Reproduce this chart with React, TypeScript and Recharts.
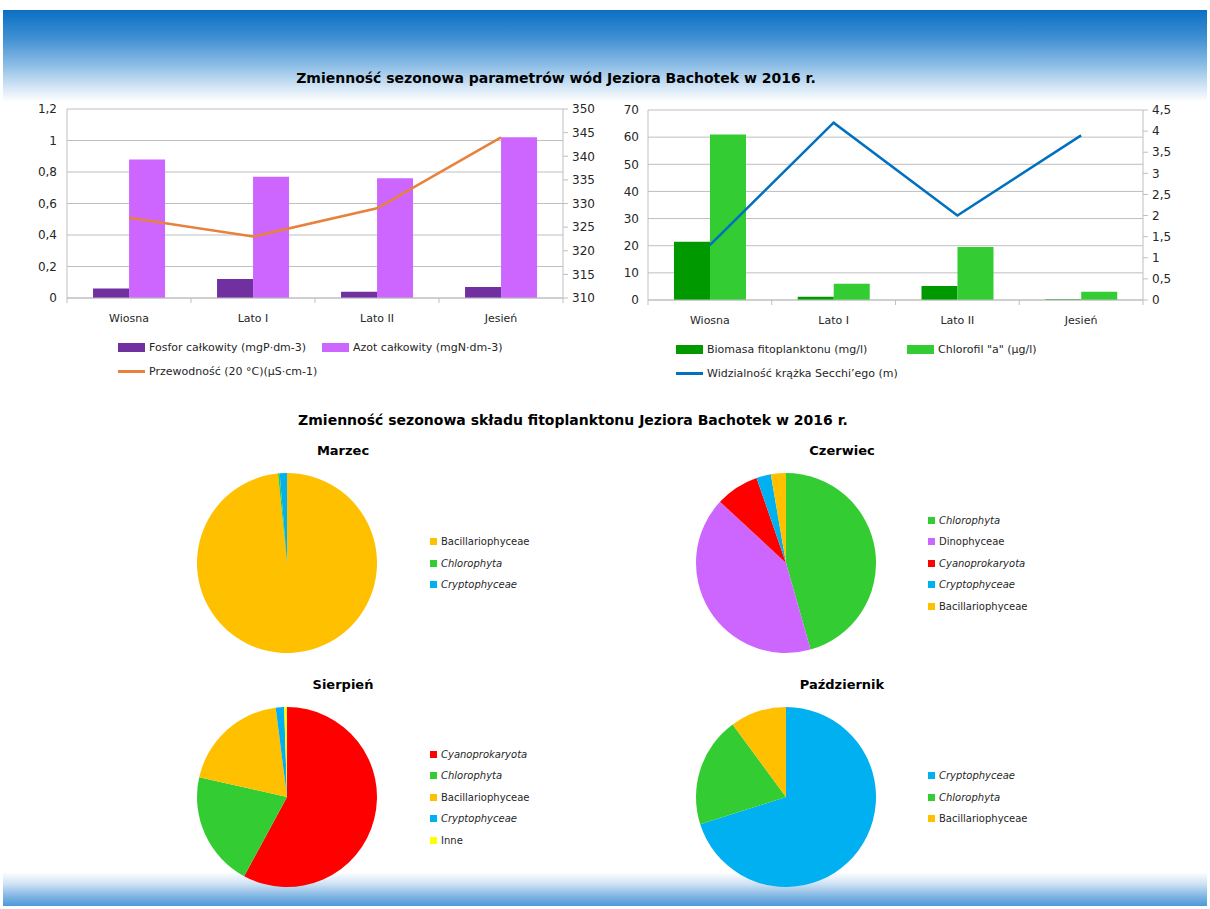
import React from 'react';
import { ComposedChart, Bar, Line, XAxis, YAxis, CartesianGrid, PieChart, Pie, Cell } from 'recharts';

// --- data ---
const seasons = ['Wiosna', 'Lato I', 'Lato II', 'Jesień'];

const fosfor = [0.06, 0.12, 0.04, 0.07];
const azot = [0.88, 0.77, 0.76, 1.02];
const przewodnosc = [327, 323, 329, 344];

const biomasa = [21.5, 1.2, 5.2, 0.3];
const chlorofil = [61, 6, 19.5, 3];
const secchi = [1.3, 4.2, 2.0, 3.9];

const ticksNutrients = [0, 0.2, 0.4, 0.6, 0.8, 1, 1.2];
const ticksConductivity = [310, 315, 320, 325, 330, 335, 340, 345, 350];
const ticksBiomass = [0, 10, 20, 30, 40, 50, 60, 70];
const ticksSecchi = [0, 0.5, 1, 1.5, 2, 2.5, 3, 3.5, 4, 4.5];

const marzecNames = ['Bacillariophyceae', 'Chlorophyta', 'Cryptophyceae'];
const marzecValues = [98.4, 0.3, 1.3];

const czerwiecNames = ['Chlorophyta', 'Dinophyceae', 'Cyanoprokaryota', 'Cryptophyceae', 'Bacillariophyceae'];
const czerwiecValues = [45.6, 41.3, 7.8, 2.6, 2.7];

const sierpienNames = ['Cyanoprokaryota', 'Chlorophyta', 'Bacillariophyceae', 'Cryptophyceae', 'Inne'];
const sierpienValues = [57.9, 20.6, 19.5, 1.5, 0.5];

const pazdziernikNames = ['Cryptophyceae', 'Chlorophyta', 'Bacillariophyceae'];
const pazdziernikValues = [70.1, 19.8, 10.1];

// --- styles ---
const FONT = '"DejaVu Sans", Verdana, sans-serif';
const GRID = '#bfbfbf';
const TEXT = '#262626';

const groupColors: Record<string, string> = {
  Bacillariophyceae: '#ffc000',
  Chlorophyta: '#33cc33',
  Cryptophyceae: '#00b0f0',
  Dinophyceae: '#cc66ff',
  Cyanoprokaryota: '#ff0000',
  Inne: '#ffff00',
};
const italicNames = ['Chlorophyta', 'Cryptophyceae', 'Cyanoprokaryota'];

const comma = (v: number) => String(v).replace('.', ',');

const nutrientRows = seasons.map((s, i) => ({
  season: s,
  fosfor: fosfor[i],
  azot: azot[i],
  przewodnosc: przewodnosc[i],
}));

const planktonRows = seasons.map((s, i) => ({
  season: s,
  biomasa: biomasa[i],
  chlorofil: chlorofil[i],
  secchi: secchi[i],
}));

// category label with Excel-like tick marks between the categories
const CategoryTick = (props: any) => {
  const { x, y, payload, index, step, count } = props;
  return (
    <g>
      <line x1={x - step / 2} y1={y} x2={x - step / 2} y2={y + 5} stroke={GRID} />
      {index === count - 1 && <line x1={x + step / 2} y1={y} x2={x + step / 2} y2={y + 5} stroke={GRID} />}
      <text x={x} y={y + 24} textAnchor="middle" fontSize={11} fill={TEXT} fontFamily={FONT}>
        {payload.value}
      </text>
    </g>
  );
};

const tickStyle = { fontSize: 12, fill: TEXT, fontFamily: FONT };

const SwatchLegend = ({ left, top, items }: { left: number; top: number; items: { label: string; color: string; line?: boolean; x: number; row: number }[] }) => (
  <>
    {items.map((it) => (
      <div
        key={it.label}
        style={{
          position: 'absolute',
          left: left + it.x,
          top: top + it.row * 24,
          display: 'flex',
          alignItems: 'center',
          fontFamily: FONT,
          fontSize: 11,
          color: TEXT,
          whiteSpace: 'nowrap',
        }}
      >
        <span
          style={{
            display: 'inline-block',
            width: 27,
            height: it.line ? 3 : 9,
            background: it.color,
            marginRight: 4,
          }}
        />
        {it.label}
      </div>
    ))}
  </>
);

const PieBlock = ({ title, names, values, cx, cy, legendX }: { title: string; names: string[]; values: number[]; cx: number; cy: number; legendX: number }) => {
  const data = names.map((n, i) => ({ name: n, value: values[i] }));
  const rowH = 21.5;
  const legendTop = cy - (names.length * rowH) / 2;
  return (
    <>
      <div
        style={{
          position: 'absolute',
          left: cx - 44,
          top: cy - 120,
          width: 200,
          textAlign: 'center',
          fontFamily: FONT,
          fontWeight: 'bold',
          fontSize: 13,
          color: '#000',
        }}
      >
        {title}
      </div>
      <div style={{ position: 'absolute', left: cx - 100, top: cy - 100 }}>
        <PieChart width={200} height={200} margin={{ top: 0, right: 0, bottom: 0, left: 0 }}>
          <Pie
            data={data}
            dataKey="value"
            nameKey="name"
            cx={100}
            cy={100}
            outerRadius={90}
            startAngle={90}
            endAngle={-270}
            stroke="none"
            isAnimationActive={false}
          >
            {data.map((d) => (
              <Cell key={d.name} fill={groupColors[d.name]} />
            ))}
          </Pie>
        </PieChart>
      </div>
      {names.map((n, i) => (
        <div
          key={n}
          style={{
            position: 'absolute',
            left: legendX,
            top: legendTop + i * rowH,
            height: rowH,
            display: 'flex',
            alignItems: 'center',
            fontFamily: FONT,
            fontSize: 10,
            fontStyle: italicNames.includes(n) ? 'italic' : 'normal',
            color: TEXT,
            whiteSpace: 'nowrap',
          }}
        >
          <span style={{ display: 'inline-block', width: 7, height: 7, background: groupColors[n], marginRight: 4 }} />
          {n}
        </div>
      ))}
    </>
  );
};

export default function App() {
  return (
    <div style={{ position: 'absolute', left: 0, top: 0, width: 1210, height: 909, background: '#fff', overflow: 'hidden' }}>
      {/* header and footer bands */}
      <div
        style={{
          position: 'absolute',
          left: 3,
          top: 10,
          width: 1204,
          height: 92,
          background: 'linear-gradient(to bottom, #0a6fc3 0%, #3f8fd2 30%, #8cbde6 60%, #d7e8f6 85%, #ffffff 100%)',
        }}
      />
      <div
        style={{
          position: 'absolute',
          left: 3,
          top: 872,
          width: 1204,
          height: 34,
          background: 'linear-gradient(to bottom, #ffffff 0%, #cfe2f4 35%, #79b1e2 75%, #4d99d8 100%)',
        }}
      />

      <div style={{ position: 'absolute', left: 0, top: 70, width: 1112, textAlign: 'center', fontFamily: FONT, fontWeight: 'bold', fontSize: 14, color: '#000' }}>
        Zmienność sezonowa parametrów wód Jeziora Bachotek w 2016 r.
      </div>

      {/* nutrients and conductivity */}
      <div style={{ position: 'absolute', left: 20, top: 95 }}>
        <ComposedChart width={590} height={240} data={nutrientRows} margin={{ top: 14, right: 0, left: 0, bottom: 0 }} barCategoryGap="21%" barGap={0}>
          <CartesianGrid yAxisId="left" vertical={false} stroke={GRID} />
          <XAxis
            dataKey="season"
            height={37}
            axisLine={{ stroke: GRID }}
            tickLine={false}
            tickSize={0}
            tickMargin={0}
            interval={0}
            tick={<CategoryTick step={496 / seasons.length} count={seasons.length} />}
          />
          <YAxis
            yAxisId="left"
            width={47}
            domain={[0, 1.2]}
            ticks={ticksNutrients}
            tickFormatter={comma}
            axisLine={{ stroke: GRID }}
            tickLine={false}
            tickSize={0}
            tickMargin={10}
            tick={tickStyle}
          />
          <YAxis
            yAxisId="right"
            orientation="right"
            width={47}
            domain={[310, 350]}
            ticks={ticksConductivity}
            axisLine={{ stroke: GRID }}
            tickLine={{ stroke: GRID }}
            tickSize={5}
            tickMargin={4}
            tick={tickStyle}
          />
          <Bar yAxisId="left" dataKey="fosfor" fill="#7030a0" isAnimationActive={false} />
          <Bar yAxisId="left" dataKey="azot" fill="#cc66ff" isAnimationActive={false} />
          <Line yAxisId="right" type="linear" dataKey="przewodnosc" stroke="#e8813c" strokeWidth={2.5} dot={false} isAnimationActive={false} />
        </ComposedChart>
      </div>
      <SwatchLegend
        left={118}
        top={341}
        items={[
          { label: 'Fosfor całkowity (mgP·dm-3)', color: '#7030a0', x: 0, row: 0 },
          { label: 'Azot całkowity (mgN·dm-3)', color: '#cc66ff', x: 204, row: 0 },
          { label: 'Przewodność (20 °C)(µS·cm-1)', color: '#e8813c', line: true, x: 0, row: 1 },
        ]}
      />

      {/* phytoplankton biomass, chlorophyll and Secchi depth */}
      <div style={{ position: 'absolute', left: 600, top: 95 }}>
        <ComposedChart width={595} height={240} data={planktonRows} margin={{ top: 15, right: 0, left: 0, bottom: 0 }} barCategoryGap="21%" barGap={0}>
          <CartesianGrid yAxisId="left" vertical={false} stroke={GRID} />
          <XAxis
            dataKey="season"
            height={35}
            axisLine={{ stroke: GRID }}
            tickLine={false}
            tickSize={0}
            tickMargin={0}
            interval={0}
            tick={<CategoryTick step={495 / seasons.length} count={seasons.length} />}
          />
          <YAxis
            yAxisId="left"
            width={48}
            domain={[0, 70]}
            ticks={ticksBiomass}
            axisLine={{ stroke: GRID }}
            tickLine={false}
            tickSize={0}
            tickMargin={9}
            tick={tickStyle}
          />
          <YAxis
            yAxisId="right"
            orientation="right"
            width={52}
            domain={[0, 4.5]}
            ticks={ticksSecchi}
            tickFormatter={comma}
            axisLine={{ stroke: GRID }}
            tickLine={{ stroke: GRID }}
            tickSize={5}
            tickMargin={4}
            tick={tickStyle}
          />
          <Bar yAxisId="left" dataKey="biomasa" fill="#009900" isAnimationActive={false} />
          <Bar yAxisId="left" dataKey="chlorofil" fill="#33cc33" isAnimationActive={false} />
          <Line yAxisId="right" type="linear" dataKey="secchi" stroke="#0070c0" strokeWidth={2.5} dot={false} isAnimationActive={false} />
        </ComposedChart>
      </div>
      <SwatchLegend
        left={676}
        top={343}
        items={[
          { label: 'Biomasa fitoplanktonu (mg/l)', color: '#009900', x: 0, row: 0 },
          { label: 'Chlorofil "a" (µg/l)', color: '#33cc33', x: 231, row: 0 },
          { label: 'Widzialność krążka Secchi’ego (m)', color: '#0070c0', line: true, x: 0, row: 1 },
        ]}
      />

      <div style={{ position: 'absolute', left: 0, top: 412, width: 1146, textAlign: 'center', fontFamily: FONT, fontWeight: 'bold', fontSize: 14, color: '#000' }}>
        Zmienność sezonowa składu fitoplanktonu Jeziora Bachotek w 2016 r.
      </div>

      <PieBlock title="Marzec" names={marzecNames} values={marzecValues} cx={287} cy={563} legendX={430} />
      <PieBlock title="Czerwiec" names={czerwiecNames} values={czerwiecValues} cx={786} cy={563} legendX={928} />
      <PieBlock title="Sierpień" names={sierpienNames} values={sierpienValues} cx={287} cy={797} legendX={430} />
      <PieBlock title="Październik" names={pazdziernikNames} values={pazdziernikValues} cx={786} cy={797} legendX={928} />
    </div>
  );
}
